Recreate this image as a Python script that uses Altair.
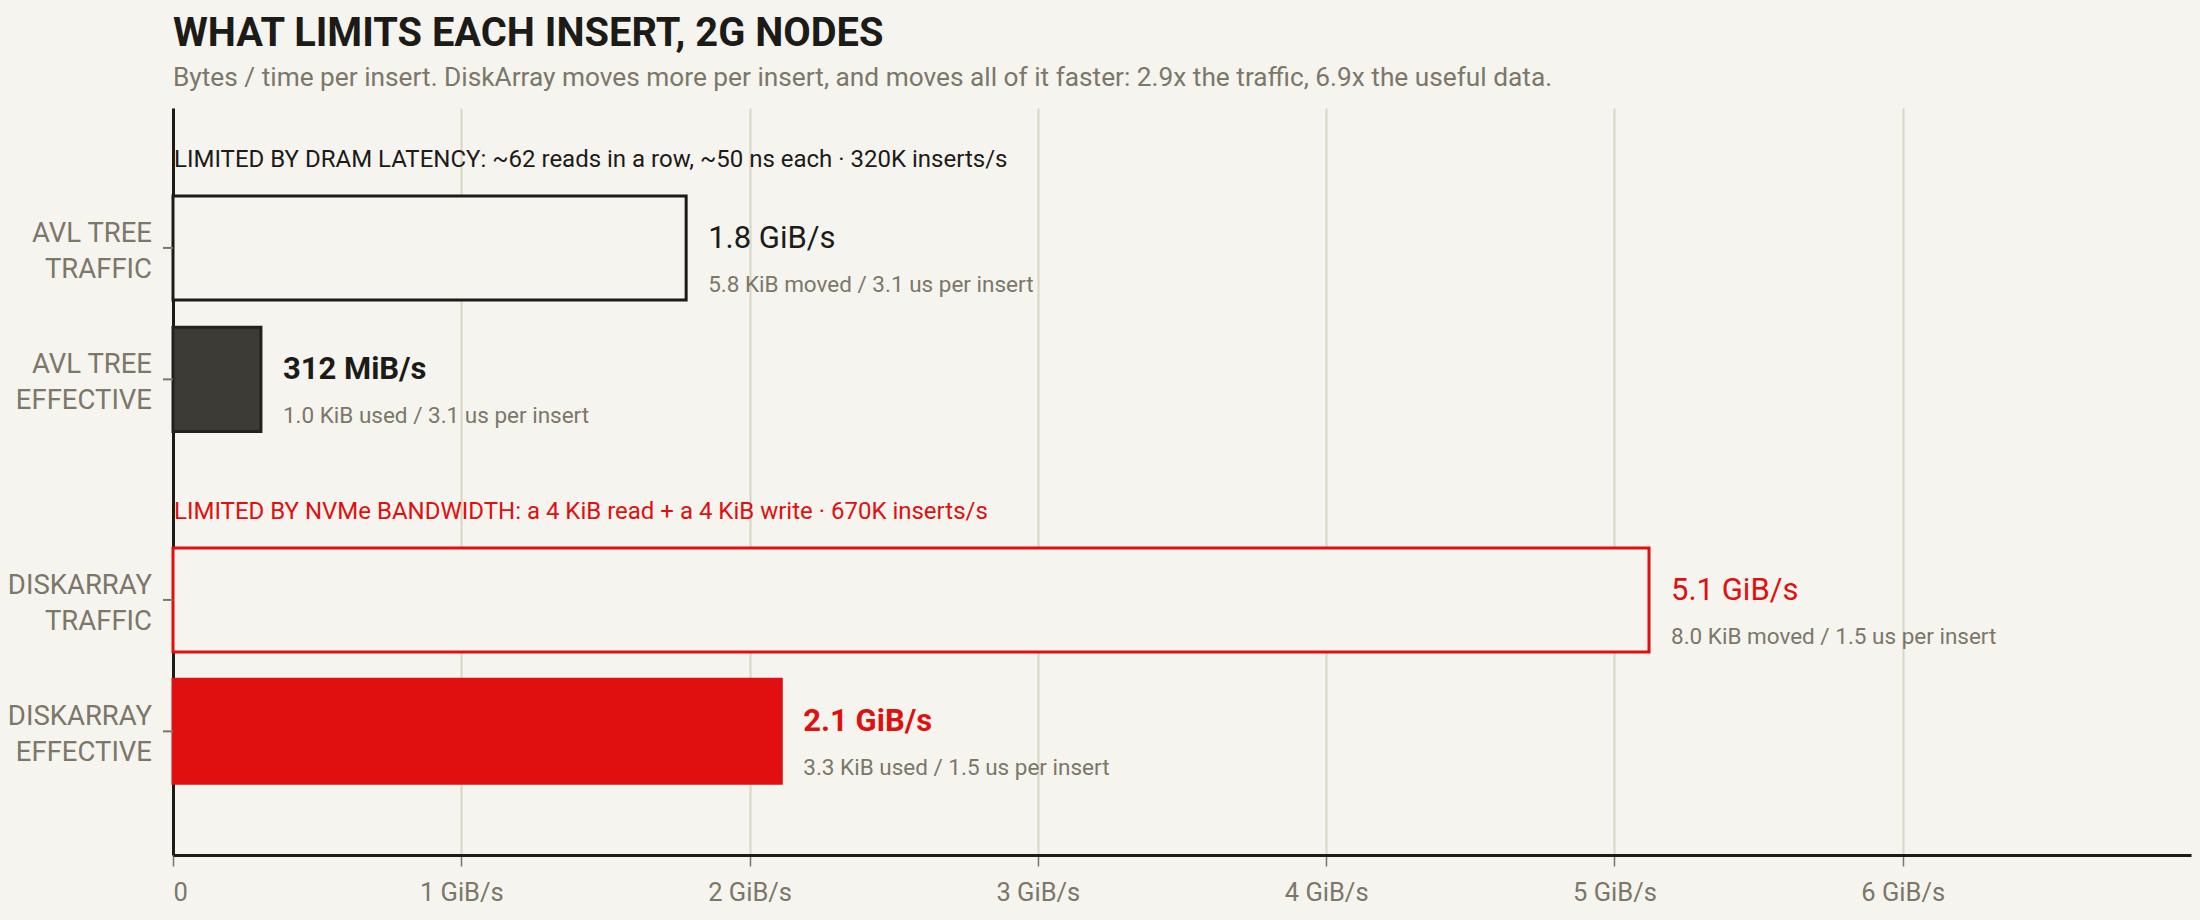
import altair as alt
import pandas as pd

# ---- data ----
groups = ["AVL TREE", "AVL TREE", "DISKARRAY", "DISKARRAY"]
metrics = ["TRAFFIC", "EFFECTIVE", "TRAFFIC", "EFFECTIVE"]
values = [1.78, 0.305, 5.12, 2.11]  # GiB/s
value_labels = ["1.8 GiB/s", "312 MiB/s", "5.1 GiB/s", "2.1 GiB/s"]
detail_labels = [
    "5.8 KiB moved / 3.1 us per insert",
    "1.0 KiB used / 3.1 us per insert",
    "8.0 KiB moved / 1.5 us per insert",
    "3.3 KiB used / 1.5 us per insert",
]
header_groups = ["AVL TREE", "DISKARRAY"]
header_texts = [
    "LIMITED BY DRAM LATENCY: ~62 reads in a row, ~50 ns each \u00b7 320K inserts/s",
    "LIMITED BY NVMe BANDWIDTH: a 4 KiB read + a 4 KiB write \u00b7 670K inserts/s",
]
x_ticks = [0, 1, 2, 3, 4, 5, 6]

# ---- styles ----
BG = "#f5f4ef"
INK = "#1c1b18"
GRAY = "#7b7769"
RED = "#e01010"
DARK = "#3d3b36"
GRID = "#dad6c6"
FONT = "Roboto"

df = pd.DataFrame({"group": groups, "metric": metrics, "value": values,
                   "vlabel": value_labels, "dlabel": detail_labels})
df["key"] = df["group"] + " " + df["metric"]
hdr = pd.DataFrame({"group": header_groups, "text": header_texts})

keys = ["AVL TREE TRAFFIC", "AVL TREE EFFECTIVE", "DISKARRAY TRAFFIC", "DISKARRAY EFFECTIVE"]
fills = [BG, DARK, BG, RED]
strokes = [INK, "#22211e", RED, RED]

ysc = alt.Scale(domain=header_groups, paddingInner=0.331, paddingOuter=0.2266, align=0.551)
yosc = alt.Scale(domain=["TRAFFIC", "EFFECTIVE"], paddingInner=0.2085, paddingOuter=0)

Y = alt.Y("group:N", scale=ysc, axis=alt.Axis(labels=False, ticks=False, title=None,
                                              domain=True, domainColor=INK, domainWidth=3, grid=False))
YO = alt.YOffset("metric:N", scale=yosc)
X = alt.X("value:Q", scale=alt.Scale(domain=[0, 7], nice=False, zero=True),
          axis=alt.Axis(values=x_ticks, title=None, grid=True, gridColor=GRID, gridWidth=2,
                        domainColor=INK, domainWidth=3, tickColor=GRAY, tickSize=11, tickWidth=1.5,
                        labelColor=GRAY, labelFontSize=25.5, labelFont=FONT, labelPadding=14,
                        labelExpr="datum.value == 0 ? '0' : datum.value + ' GiB/s'"))

base = alt.Chart(df)

bars = base.mark_bar(strokeWidth=3).encode(
    x=X, y=Y, yOffset=YO,
    fill=alt.Fill("key:N", scale=alt.Scale(domain=keys, range=fills), legend=None),
    stroke=alt.Stroke("key:N", scale=alt.Scale(domain=keys, range=strokes), legend=None),
)

valcolor = alt.Color("group:N", scale=alt.Scale(domain=header_groups, range=[INK, RED]), legend=None)

val_traffic = base.transform_filter("datum.metric == 'TRAFFIC'").mark_text(
    align="left", baseline="alphabetic", dx=22, dy=0, fontSize=31, font=FONT, fontWeight="normal"
).encode(x="value:Q", y=Y, yOffset=YO, text="vlabel:N", color=valcolor)

val_eff = base.transform_filter("datum.metric == 'EFFECTIVE'").mark_text(
    align="left", baseline="alphabetic", dx=22, dy=0, fontSize=31, font=FONT, fontWeight="bold"
).encode(x="value:Q", y=Y, yOffset=YO, text="vlabel:N", color=valcolor)

details = base.mark_text(
    align="left", baseline="alphabetic", dx=22, dy=44, fontSize=22.5, font=FONT, color=GRAY
).encode(x="value:Q", y=Y, yOffset=YO, text="dlabel:N")

ylabels = base.transform_calculate(lab="datum.group + '\\n' + datum.metric").mark_text(
    align="right", baseline="middle", lineBreak="\n", lineHeight=36, fontSize=27.5, font=FONT,
    color=GRAY, dy=-14
).encode(x=alt.value(-21), y=Y, yOffset=YO, text="lab:N")

yticks = base.mark_rule(color=GRAY, strokeWidth=2).encode(
    x=alt.value(-10), x2=alt.value(0), y=Y, yOffset=YO)

headers = alt.Chart(hdr).mark_text(
    align="left", baseline="middle", dy=-154, dx=1, fontSize=24, font=FONT
).encode(x=alt.value(0), y=Y, text="text:N",
         color=alt.Color("group:N", scale=alt.Scale(domain=header_groups, range=[INK, RED]), legend=None))

chart = alt.layer(bars, yticks, ylabels, val_traffic, val_eff, details, headers).properties(
    width=2018, height=747,
    title=alt.TitleParams(
        text="WHAT LIMITS EACH INSERT, 2G NODES",
        subtitle="Bytes / time per insert. DiskArray moves more per insert, and moves all of it faster: 2.9x the traffic, 6.9x the useful data.",
        anchor="start", frame="group", font=FONT, fontSize=39.8, fontWeight="bold", color=INK,
        subtitleFont=FONT, subtitleFontSize=26.25, subtitleColor=GRAY, subtitlePadding=10, offset=16,
    ),
    autosize=alt.AutoSizeParams(type="none"),
    padding={"left": 173, "top": 108, "right": 9, "bottom": 65},
    background=BG,
).configure_view(strokeWidth=0)

chart.save("out.html", embed_options={"renderer": "svg", "actions": False})
